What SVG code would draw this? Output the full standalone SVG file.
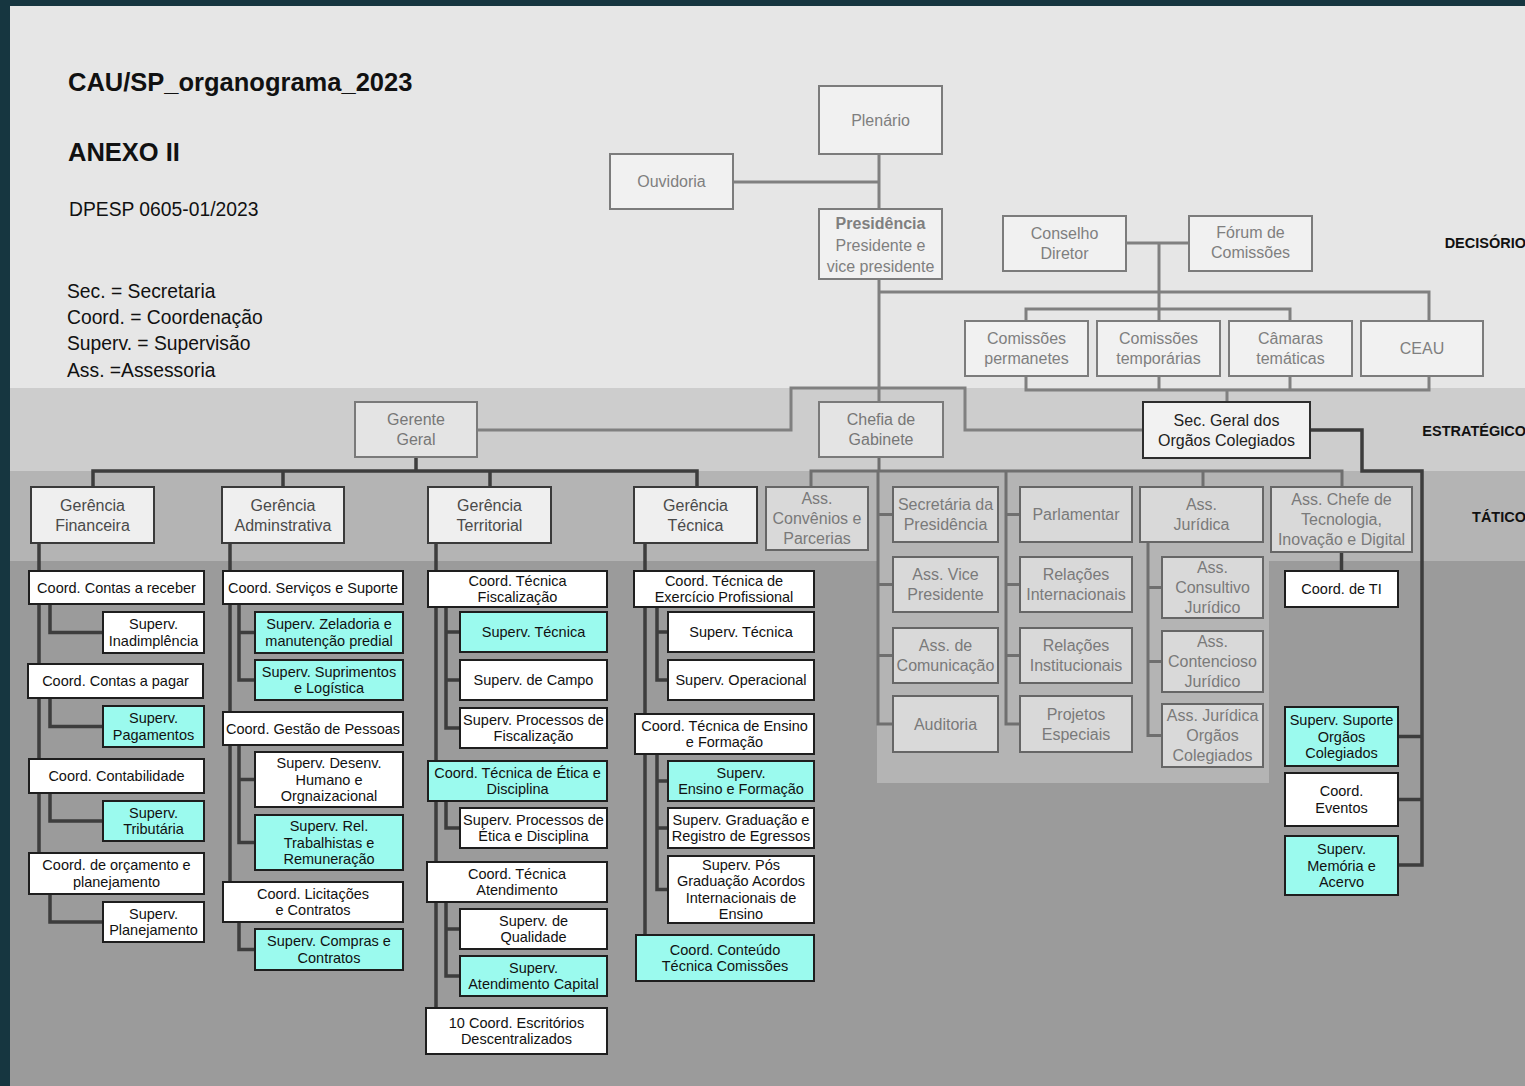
<svg xmlns="http://www.w3.org/2000/svg" width="1525" height="1086" viewBox="0 0 1525 1086">
<style>
text{font-family:"Liberation Sans",Arial,sans-serif;text-anchor:middle}
.dec rect{fill:#f1f1f1;stroke:#7c7c7c;stroke-width:2}
.dec text{fill:#7f7f7f;font-size:16px}
.str rect{fill:#e4e4e4;stroke:#7a7a7a;stroke-width:2}
.str text{fill:#777;font-size:16px}
.sec rect{fill:#f2f2f2;stroke:#2e2e2e;stroke-width:2}
.sec text{fill:#222;font-size:16px}
.ger rect{fill:#efefef;stroke:#3a3a3a;stroke-width:2}
.ger text{fill:#4a4a4a;font-size:16px}
.ass rect{fill:#d9d9d9;stroke:#666;stroke-width:2}
.ass text{fill:#7a7a7a;font-size:16px}
.op rect{fill:#fff;stroke:#1e1e1e;stroke-width:2}
.cy rect{fill:#9bfaee;stroke:#1e1e1e;stroke-width:2}
.op text,.cy text{fill:#111;font-size:14.5px}
.gl{fill:none;stroke:#808080;stroke-width:3}
.gl2{fill:none;stroke:#6f6f6f;stroke-width:3}
.dl{fill:none;stroke:#3d3d3d;stroke-width:3.5}
.lbl{font-weight:bold;font-size:14.5px;fill:#111;text-anchor:end}
.leg{font-size:19.3px;fill:#111;text-anchor:start}
.ttl{font-size:25.5px;font-weight:bold;fill:#111;text-anchor:start}
</style>
<rect x="0" y="0" width="1525" height="1086" fill="#163640"/>
<rect x="10" y="6" width="1515" height="382" fill="#e6e6e6"/>
<rect x="10" y="388" width="1515" height="83" fill="#cdcdcd"/>
<rect x="10" y="471" width="1515" height="90" fill="#b4b4b4"/>
<rect x="10" y="561" width="1515" height="525" fill="#9b9b9b"/>
<rect x="877" y="561" width="392" height="222" fill="#b4b4b4"/>

<g id="legend">
<text x="68" y="91" class="ttl">CAU/SP_organograma_2023</text>
<text x="68" y="161" class="ttl">ANEXO II</text>
<text x="69" y="216" class="leg">DPESP 0605-01/2023</text>
<text x="67" y="298" class="leg">Sec. = Secretaria</text>
<text x="67" y="324" class="leg">Coord. = Coordenação</text>
<text x="67" y="350" class="leg">Superv. = Supervisão</text>
<text x="67" y="377" class="leg">Ass. =Assessoria</text>
<text x="1526" y="248" class="lbl">DECISÓRIO</text>
<text x="1526" y="436" class="lbl">ESTRATÉGICO</text>
<text x="1526" y="522" class="lbl">TÁTICO</text>
</g>

<g id="connectors">
<path class="gl" d="M879 154V457M733 182H879M879 292H1429V321M1126 243H1189M1159 243V321M1026 321V309H1290V321M1026 376V390H1429V376M1159 376V390M1290 376V390M1227 390V402M477 430H791V388H965V430H1143"/>
<path class="gl2" d="M879 457V471M811 487V471H1342V487M1203 471V487M878 471V724H893M878 514.5H893M878 584.5H893M878 655.5H893M1006 471V724H1020M1006 514.5H1020M1006 584.5H1020M1006 655.5H1020M1148 542V735.5H1162M1148 587.5H1162M1148 661.5H1162"/>
<path class="dl" d="M416 457V471M93 487V471H697V487M283 471V487M490 471V487M1310 430H1362V471H1422V865H1398M1398 736.5H1422M1398 799.5H1422M1341.5 552V571"/>
<path class="dl" d="M39 543V853M50 604V632.5H103M50 698V726.5H103M50 793V821H103M50 894V922H103M230 543V882M239 604V680H255M239 632.5H255M239 745V842.5H255M239 779.5H255M239 922V949.5H255M436 543V1008M446 607V728H460M446 632H460M446 680H460M446 801V828H460M446 902V976H460M446 929H460M645 543V935M657 607V680H668M657 632H668M657 754V889.5H668M657 781H668M657 828H668"/>
</g>

<g id="plenario" class="dec"><rect x="819" y="86" width="123" height="68"/><text x="880.5" y="125.6">Plenário</text></g>
<g id="ouvidoria" class="dec"><rect x="610" y="154" width="123" height="55"/><text x="671.5" y="187.1">Ouvidoria</text></g>
<g id="presidencia" class="dec"><rect x="819" y="209" width="123" height="70"/><text x="880.5" y="229" style="font-weight:bold">Presidência</text><text x="880.5" y="251">Presidente e</text><text x="880.5" y="272">vice presidente</text></g>
<g id="conselho" class="dec"><rect x="1003" y="216" width="123" height="55"/><text x="1064.5" y="239"><tspan x="1064.5">Conselho</tspan><tspan x="1064.5" y="259">Diretor</tspan></text></g>
<g id="forum" class="dec"><rect x="1189" y="216" width="123" height="55"/><text x="1250.5" y="238"><tspan x="1250.5">Fórum de</tspan><tspan x="1250.5" y="258">Comissões</tspan></text></g>
<g id="com-perm" class="dec"><rect x="965" y="321" width="123" height="55"/><text x="1026.5" y="344"><tspan x="1026.5">Comissões</tspan><tspan x="1026.5" y="364">permanetes</tspan></text></g>
<g id="com-temp" class="dec"><rect x="1097" y="321" width="123" height="55"/><text x="1158.5" y="344"><tspan x="1158.5">Comissões</tspan><tspan x="1158.5" y="364">temporárias</tspan></text></g>
<g id="camaras" class="dec"><rect x="1229" y="321" width="123" height="55"/><text x="1290.5" y="344"><tspan x="1290.5">Câmaras</tspan><tspan x="1290.5" y="364">temáticas</tspan></text></g>
<g id="ceau" class="dec"><rect x="1361" y="321" width="122" height="55"/><text x="1422" y="354">CEAU</text></g>

<g id="gerente-geral" class="str"><rect x="355" y="402" width="122" height="55"/><text x="416" y="425"><tspan x="416">Gerente</tspan><tspan x="416" y="445">Geral</tspan></text></g>
<g id="chefia" class="str"><rect x="819" y="402" width="124" height="55"/><text x="881" y="425"><tspan x="881">Chefia de</tspan><tspan x="881" y="445">Gabinete</tspan></text></g>
<g id="sec-geral" class="sec"><rect x="1143" y="402" width="167" height="56"/><text x="1226.5" y="425.6"><tspan x="1226.5">Sec. Geral dos</tspan><tspan x="1226.5" y="445.6">Orgãos Colegiados</tspan></text></g>

<g id="ger-fin" class="ger"><rect x="31" y="487" width="123" height="56"/><text x="92.5" y="510.6"><tspan x="92.5">Gerência</tspan><tspan x="92.5" y="530.6">Financeira</tspan></text></g>
<g id="ger-adm" class="ger"><rect x="222" y="487" width="122" height="56"/><text x="283" y="510.6"><tspan x="283">Gerência</tspan><tspan x="283" y="530.6">Adminstrativa</tspan></text></g>
<g id="ger-ter" class="ger"><rect x="428" y="487" width="123" height="56"/><text x="489.5" y="510.6"><tspan x="489.5">Gerência</tspan><tspan x="489.5" y="530.6">Territorial</tspan></text></g>
<g id="ger-tec" class="ger"><rect x="634" y="487" width="123" height="56"/><text x="695.5" y="510.6"><tspan x="695.5">Gerência</tspan><tspan x="695.5" y="530.6">Técnica</tspan></text></g>

<g id="ass-conv" class="ass"><rect x="766" y="487" width="102" height="63"/><text x="817" y="504"><tspan x="817">Ass.</tspan><tspan x="817" y="524">Convênios e</tspan><tspan x="817" y="544">Parcerias</tspan></text></g>
<g id="sec-pres" class="ass"><rect x="893" y="487" width="105" height="55"/><text x="945.5" y="510"><tspan x="945.5">Secretária da</tspan><tspan x="945.5" y="530">Presidência</tspan></text></g>
<g id="ass-vice" class="ass"><rect x="893" y="557" width="105" height="55"/><text x="945.5" y="580"><tspan x="945.5">Ass. Vice</tspan><tspan x="945.5" y="600">Presidente</tspan></text></g>
<g id="ass-com" class="ass"><rect x="893" y="628" width="105" height="55"/><text x="945.5" y="651"><tspan x="945.5">Ass. de</tspan><tspan x="945.5" y="671">Comunicação</tspan></text></g>
<g id="auditoria" class="ass"><rect x="893" y="696" width="105" height="56"/><text x="945.5" y="729.6">Auditoria</text></g>
<g id="parlamentar" class="ass"><rect x="1020" y="487" width="112" height="55"/><text x="1076" y="520">Parlamentar</text></g>
<g id="rel-int" class="ass"><rect x="1020" y="557" width="112" height="55"/><text x="1076" y="580"><tspan x="1076">Relações</tspan><tspan x="1076" y="600">Internacionais</tspan></text></g>
<g id="rel-inst" class="ass"><rect x="1020" y="628" width="112" height="55"/><text x="1076" y="651"><tspan x="1076">Relações</tspan><tspan x="1076" y="671">Institucionais</tspan></text></g>
<g id="projetos" class="ass"><rect x="1020" y="696" width="112" height="56"/><text x="1076" y="719.6"><tspan x="1076">Projetos</tspan><tspan x="1076" y="739.6">Especiais</tspan></text></g>
<g id="ass-jur" class="ass"><rect x="1140" y="487" width="123" height="55"/><text x="1201.5" y="510"><tspan x="1201.5">Ass.</tspan><tspan x="1201.5" y="530">Jurídica</tspan></text></g>
<g id="ass-cons" class="ass"><rect x="1162" y="557" width="101" height="61"/><text x="1212.5" y="573"><tspan x="1212.5">Ass.</tspan><tspan x="1212.5" y="593">Consultivo</tspan><tspan x="1212.5" y="613">Jurídico</tspan></text></g>
<g id="ass-cont" class="ass"><rect x="1162" y="631" width="101" height="61"/><text x="1212.5" y="647"><tspan x="1212.5">Ass.</tspan><tspan x="1212.5" y="667">Contencioso</tspan><tspan x="1212.5" y="687">Jurídico</tspan></text></g>
<g id="ass-jur-org" class="ass"><rect x="1162" y="704" width="101" height="63"/><text x="1212.5" y="721"><tspan x="1212.5">Ass. Jurídica</tspan><tspan x="1212.5" y="741">Orgãos</tspan><tspan x="1212.5" y="761">Colegiados</tspan></text></g>
<g id="ass-tec" class="ass"><rect x="1271" y="487" width="141" height="65"/><text x="1341.5" y="505"><tspan x="1341.5">Ass. Chefe de</tspan><tspan x="1341.5" y="525">Tecnologia,</tspan><tspan x="1341.5" y="545">Inovação e Digital</tspan></text></g>

<g id="coord-receber" class="op"><rect x="29" y="571" width="175" height="33"/><text x="116.5" y="592.6">Coord. Contas a receber</text></g>
<g id="sup-inad" class="op"><rect x="103" y="612" width="101" height="41"/><text x="153.5" y="629.4"><tspan x="153.5">Superv.</tspan><tspan x="153.5" y="645.9">Inadimplência</tspan></text></g>
<g id="coord-pagar" class="op"><rect x="28" y="664" width="175" height="34"/><text x="115.5" y="686.1">Coord. Contas a pagar</text></g>
<g id="sup-pag" class="cy"><rect x="103" y="706" width="101" height="41"/><text x="153.5" y="723.4"><tspan x="153.5">Superv.</tspan><tspan x="153.5" y="739.9">Pagamentos</tspan></text></g>
<g id="coord-contab" class="op"><rect x="29" y="759" width="175" height="34"/><text x="116.5" y="781.1">Coord. Contabilidade</text></g>
<g id="sup-trib" class="cy"><rect x="103" y="801" width="101" height="40"/><text x="153.5" y="817.9"><tspan x="153.5">Superv.</tspan><tspan x="153.5" y="834.4">Tributária</tspan></text></g>
<g id="coord-orc" class="op"><rect x="29" y="853" width="175" height="41"/><text x="116.5" y="870.4"><tspan x="116.5">Coord. de orçamento e</tspan><tspan x="116.5" y="886.9">planejamento</tspan></text></g>
<g id="sup-plan" class="op"><rect x="103" y="902" width="101" height="40"/><text x="153.5" y="918.9"><tspan x="153.5">Superv.</tspan><tspan x="153.5" y="935.4">Planejamento</tspan></text></g>

<g id="coord-serv" class="op"><rect x="223" y="571" width="180" height="33"/><text x="313" y="592.6">Coord. Serviços e Suporte</text></g>
<g id="sup-zel" class="cy"><rect x="255" y="612" width="148" height="41"/><text x="329" y="629.4"><tspan x="329">Superv. Zeladoria e</tspan><tspan x="329" y="645.9">manutenção predial</tspan></text></g>
<g id="sup-supr" class="cy"><rect x="255" y="660" width="148" height="40"/><text x="329" y="676.9"><tspan x="329">Superv. Suprimentos</tspan><tspan x="329" y="693.4">e Logística</tspan></text></g>
<g id="coord-gest" class="op"><rect x="223" y="712" width="180" height="33"/><text x="313" y="733.6">Coord. Gestão de Pessoas</text></g>
<g id="sup-desenv" class="op"><rect x="255" y="752" width="148" height="55"/><text x="329" y="768.1"><tspan x="329">Superv. Desenv.</tspan><tspan x="329" y="784.6">Humano e</tspan><tspan x="329" y="801.1">Orgnaizacional</tspan></text></g>
<g id="sup-rel" class="cy"><rect x="255" y="815" width="148" height="55"/><text x="329" y="831.1"><tspan x="329">Superv. Rel.</tspan><tspan x="329" y="847.6">Trabalhistas e</tspan><tspan x="329" y="864.1">Remuneração</tspan></text></g>
<g id="coord-lic" class="op"><rect x="223" y="882" width="180" height="40"/><text x="313" y="898.9"><tspan x="313">Coord. Licitações</tspan><tspan x="313" y="915.4">e Contratos</tspan></text></g>
<g id="sup-comp" class="cy"><rect x="255" y="929" width="148" height="41"/><text x="329" y="946.4"><tspan x="329">Superv. Compras e</tspan><tspan x="329" y="962.9">Contratos</tspan></text></g>

<g id="coord-fisc" class="op"><rect x="428" y="571" width="179" height="36"/><text x="517.5" y="585.9"><tspan x="517.5">Coord. Técnica</tspan><tspan x="517.5" y="602.4">Fiscalização</tspan></text></g>
<g id="sup-tec-t" class="cy"><rect x="460" y="612" width="147" height="40"/><text x="533.5" y="637.1">Superv. Técnica</text></g>
<g id="sup-campo" class="op"><rect x="460" y="660" width="147" height="40"/><text x="533.5" y="685.1">Superv. de Campo</text></g>
<g id="sup-proc-fisc" class="op"><rect x="460" y="708" width="147" height="40"/><text x="533.5" y="724.9"><tspan x="533.5">Superv. Processos de</tspan><tspan x="533.5" y="741.4">Fiscalização</tspan></text></g>
<g id="coord-etica" class="cy"><rect x="428" y="761" width="179" height="40"/><text x="517.5" y="777.9"><tspan x="517.5">Coord. Técnica de Ética e</tspan><tspan x="517.5" y="794.4">Disciplina</tspan></text></g>
<g id="sup-proc-etica" class="op"><rect x="460" y="808" width="147" height="40"/><text x="533.5" y="824.9"><tspan x="533.5">Superv. Processos de</tspan><tspan x="533.5" y="841.4">Ética e Disciplina</tspan></text></g>
<g id="coord-atend" class="op"><rect x="427" y="862" width="180" height="40"/><text x="517" y="878.9"><tspan x="517">Coord. Técnica</tspan><tspan x="517" y="895.4">Atendimento</tspan></text></g>
<g id="sup-qual" class="op"><rect x="460" y="909" width="147" height="40"/><text x="533.5" y="925.9"><tspan x="533.5">Superv. de</tspan><tspan x="533.5" y="942.4">Qualidade</tspan></text></g>
<g id="sup-atend-cap" class="cy"><rect x="460" y="956" width="147" height="40"/><text x="533.5" y="972.9"><tspan x="533.5">Superv.</tspan><tspan x="533.5" y="989.4">Atendimento Capital</tspan></text></g>
<g id="coord-escr" class="op"><rect x="426" y="1008" width="181" height="46"/><text x="516.5" y="1027.9"><tspan x="516.5">10 Coord. Escritórios</tspan><tspan x="516.5" y="1044.4">Descentralizados</tspan></text></g>

<g id="coord-exerc" class="op"><rect x="634" y="571" width="180" height="36"/><text x="724" y="585.9"><tspan x="724">Coord. Técnica de</tspan><tspan x="724" y="602.4">Exercício Profissional</tspan></text></g>
<g id="sup-tec-g" class="op"><rect x="668" y="612" width="146" height="40"/><text x="741" y="637.1">Superv. Técnica</text></g>
<g id="sup-oper" class="op"><rect x="668" y="660" width="146" height="40"/><text x="741" y="685.1">Superv. Operacional</text></g>
<g id="coord-ensino" class="op"><rect x="635" y="714" width="179" height="40"/><text x="724.5" y="730.9"><tspan x="724.5">Coord. Técnica de Ensino</tspan><tspan x="724.5" y="747.4">e Formação</tspan></text></g>
<g id="sup-ensino" class="cy"><rect x="668" y="761" width="146" height="40"/><text x="741" y="777.9"><tspan x="741">Superv.</tspan><tspan x="741" y="794.4">Ensino e Formação</tspan></text></g>
<g id="sup-grad" class="op"><rect x="668" y="808" width="146" height="40"/><text x="741" y="824.9"><tspan x="741">Superv. Graduação e</tspan><tspan x="741" y="841.4">Registro de Egressos</tspan></text></g>
<g id="sup-pos" class="op"><rect x="668" y="856" width="146" height="67"/><text x="741" y="869.9"><tspan x="741">Superv. Pós</tspan><tspan x="741" y="886.4">Graduação Acordos</tspan><tspan x="741" y="902.9">Internacionais de</tspan><tspan x="741" y="919.4">Ensino</tspan></text></g>
<g id="coord-conteudo" class="cy"><rect x="636" y="935" width="178" height="46"/><text x="725" y="954.9"><tspan x="725">Coord. Conteúdo</tspan><tspan x="725" y="971.4">Técnica Comissões</tspan></text></g>

<g id="coord-ti" class="op"><rect x="1285" y="571" width="113" height="36"/><text x="1341.5" y="594.1">Coord. de TI</text></g>
<g id="sup-suporte" class="cy"><rect x="1285" y="707" width="113" height="59"/><text x="1341.5" y="725.1"><tspan x="1341.5">Superv. Suporte</tspan><tspan x="1341.5" y="741.6">Orgãos</tspan><tspan x="1341.5" y="758.1">Colegiados</tspan></text></g>
<g id="coord-eventos" class="op"><rect x="1285" y="773" width="113" height="53"/><text x="1341.5" y="796.4"><tspan x="1341.5">Coord.</tspan><tspan x="1341.5" y="812.9">Eventos</tspan></text></g>
<g id="sup-memoria" class="cy"><rect x="1285" y="836" width="113" height="59"/><text x="1341.5" y="854.1"><tspan x="1341.5">Superv.</tspan><tspan x="1341.5" y="870.6">Memória e</tspan><tspan x="1341.5" y="887.1">Acervo</tspan></text></g>
</svg>
